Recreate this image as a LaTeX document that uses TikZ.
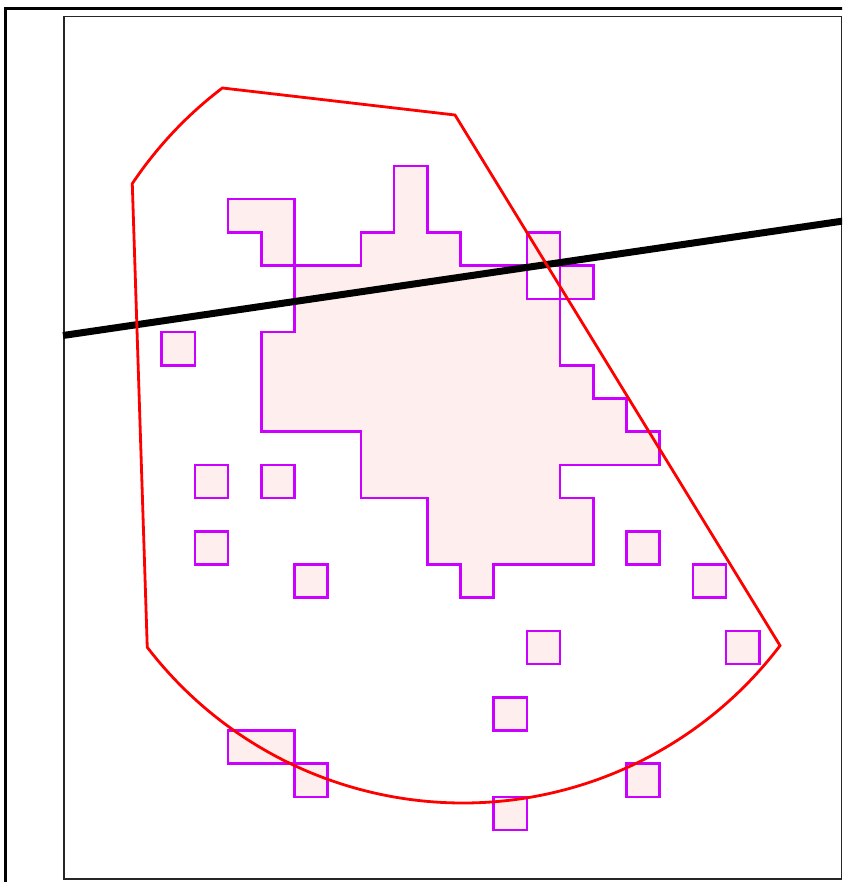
\documentclass[tikz,border=0pt]{standalone}
\usetikzlibrary{calc}
\definecolor{cellline}{HTML}{CC00FF}
\definecolor{cellfill}{HTML}{FFEEEE}
\tikzset{
  cell/.style={draw=cellline, fill=cellfill, line width=2.6pt, line join=miter},
  hull/.style={draw=red, line width=2.8pt, line join=miter},
  cutline/.style={draw=black, line width=7pt, line cap=butt},
  outerframe/.style={draw=black, line width=3pt},
  innerframe/.style={draw=black!85, line width=1.3pt}
}
\begin{document}
\begin{tikzpicture}[x=1pt,y=-1pt]
\useasboundingbox (0,0) rectangle (842,882);
\clip (0,0) rectangle (842,882);
\fill[white] (0,0) rectangle (842,882);
% frames
\draw[outerframe] (5.5,900) -- (5.5,9) -- (900,9);
\draw[innerframe] (64,16.5) rectangle (841.5,879);
% grid shapes
\begin{scope}[xshift=62pt]
\begin{scope}[x=33.2pt,y=-33.2pt]
  % main blob with hole
  \path[cell, even odd rule]
    (7,8) -- (9,8) -- (9,7) -- (10,7) -- (10,5) -- (11,5) -- (11,7) -- (12,7) -- (12,8)
    -- (14,8) -- (14,7) -- (15,7) -- (15,8) -- (16,8) -- (16,9) -- (15,9) -- (15,11)
    -- (16,11) -- (16,12) -- (17,12) -- (17,13) -- (18,13) -- (18,14) -- (15,14)
    -- (15,15) -- (16,15) -- (16,17) -- (13,17) -- (13,18) -- (12,18) -- (12,17)
    -- (11,17) -- (11,15) -- (9,15) -- (9,13) -- (6,13) -- (6,10) -- (7,10) -- cycle
    (14,8) rectangle (15,9);
  % L shape
  \path[cell] (5,6) -- (7,6) -- (7,8) -- (6,8) -- (6,7) -- (5,7) -- cycle;
  % bottom-left pair
  \path[cell] (5,22) rectangle (7,23);
  \path[cell] (7,23) rectangle (8,24);
  % single cells
  \foreach \i/\j in {3/10,4/14,6/14,4/16,7/17,17/16,19/17,14/19,20/19,13/21,17/23,13/24}
    \path[cell] (\i,\j) rectangle ++(1,1);
\end{scope}
\end{scope}
% thick black line
\coordinate (la) at (63,335.5);
\coordinate (lb) at (850,220);
\draw[cutline] (la) -- (lb);
% red hull: polygon intersected with circle
\coordinate (top) at (455,115);
\draw[hull] (top) -- ({463+398*cos(37.2)},{405+398*sin(37.2)})
  arc[start angle=37.2, end angle=142.5, radius=398]
  -- ({463+398*cos(213.8)},{405+398*sin(213.8)})
  arc[start angle=213.8, end angle=232.8, radius=398]
  -- cycle;
\end{tikzpicture}
\end{document}
